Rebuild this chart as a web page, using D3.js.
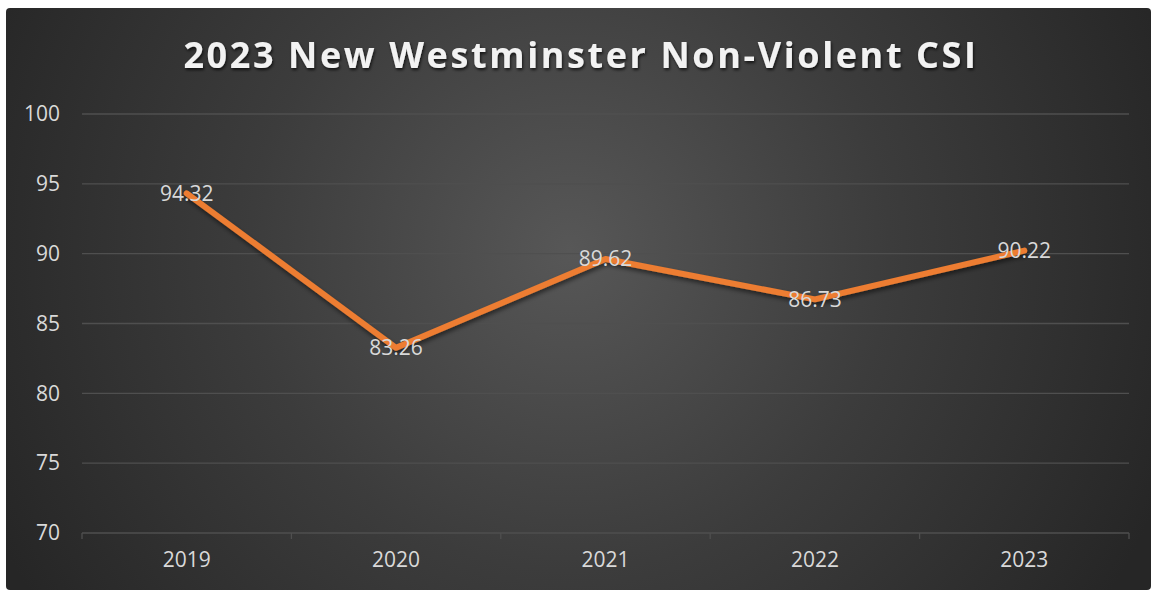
<!DOCTYPE html>
<html>
<head>
<meta charset="utf-8">
<script src="https://cdn.jsdelivr.net/npm/d3@7"></script>
<style>
  html, body { margin: 0; padding: 0; background: #ffffff; }
  svg { display: block; }
</style>
</head>
<body>
<div id="chart"></div>
<script>
// Non-violent Crime Severity Index, New Westminster
const years = ["2019", "2020", "2021", "2022", "2023"];
const csiValues = [94.32, 83.26, 89.62, 86.73, 90.22];
const yTicks = [70, 75, 80, 85, 90, 95, 100];
const chartTitle = "2023 New Westminster Non-Violent CSI";

const W = 1153, H = 590;
const margin = { left: 82, right: 24, top: 114, bottom: 57 };
const labelFont = "'Open Sans', sans-serif";

const svg = d3.select("#chart").append("svg")
  .attr("width", W).attr("height", H);

const defs = svg.append("defs");
const grad = defs.append("radialGradient")
  .attr("id", "bg")
  .attr("gradientUnits", "userSpaceOnUse")
  .attr("cx", 570).attr("cy", 250).attr("r", 640);
grad.append("stop").attr("offset", "0").attr("stop-color", "#575757");
grad.append("stop").attr("offset", "0.5").attr("stop-color", "#3c3c3c");
grad.append("stop").attr("offset", "1").attr("stop-color", "#262626");

const shadow = defs.append("filter").attr("id", "lineShadow")
  .attr("x", "-10%").attr("y", "-10%").attr("width", "120%").attr("height", "130%");
shadow.append("feDropShadow").attr("dx", 1).attr("dy", 3).attr("stdDeviation", 2)
  .attr("flood-color", "#000").attr("flood-opacity", 0.5);

const tshadow = defs.append("filter").attr("id", "titleShadow")
  .attr("x", "-5%").attr("y", "-20%").attr("width", "110%").attr("height", "150%");
tshadow.append("feDropShadow").attr("dx", 1).attr("dy", 2).attr("stdDeviation", 1.5)
  .attr("flood-color", "#000").attr("flood-opacity", 0.7);

// chart area
svg.append("rect")
  .attr("x", 6).attr("y", 8).attr("width", W - 8).attr("height", H - 8)
  .attr("rx", 4)
  .attr("fill", "url(#bg)");

const x = d3.scaleBand()
  .domain(years)
  .range([margin.left, W - margin.right])
  .paddingInner(0).paddingOuter(0);

const y = d3.scaleLinear()
  .domain([70, 100])
  .range([H - margin.bottom, margin.top]);

// horizontal gridlines
svg.append("g")
  .selectAll("line")
  .data(yTicks)
  .join("line")
  .attr("x1", margin.left).attr("x2", W - margin.right)
  .attr("y1", d => y(d)).attr("y2", d => y(d))
  .attr("stroke", "#4f4f4f").attr("stroke-width", 1.3);

// y axis labels
const yAxis = d3.axisLeft(y).tickValues(yTicks).tickSize(0).tickPadding(22);
const yg = svg.append("g").attr("transform", `translate(${margin.left},0)`).call(yAxis);
yg.select(".domain").remove();
yg.selectAll("text")
  .attr("fill", "#d9d9d9")
  .style("font-family", labelFont)
  .style("font-size", "21px");

// category tick marks at band boundaries
const xg = svg.append("g").attr("transform", `translate(0,${y(70)})`);
const bounds = years.map(d => x(d)).concat([x(years[years.length - 1]) + x.bandwidth()]);
xg.selectAll("line.tick")
  .data(bounds)
  .join("line")
  .attr("class", "tick")
  .attr("x1", d => d).attr("x2", d => d)
  .attr("y1", 0).attr("y2", 6)
  .attr("stroke", "#4f4f4f").attr("stroke-width", 1.3);
const xAxis = d3.axisBottom(x).tickSize(0).tickPadding(19);
const xag = svg.append("g").attr("transform", `translate(0,${y(70)})`).call(xAxis);
xag.select(".domain").remove();
xag.selectAll("text")
  .attr("fill", "#d9d9d9")
  .style("font-family", labelFont)
  .style("font-size", "21px");

// the series line
const cx = d => x(d) + x.bandwidth() / 2;
const line = d3.line()
  .x((d, i) => cx(years[i]))
  .y(d => y(d));

svg.append("path")
  .datum(csiValues)
  .attr("d", line)
  .attr("fill", "none")
  .attr("stroke", "#ED7D31")
  .attr("stroke-width", 6)
  .attr("stroke-linejoin", "round")
  .attr("stroke-linecap", "round")
  .attr("filter", "url(#lineShadow)");

// value labels centered on the points
svg.append("g")
  .selectAll("text")
  .data(csiValues)
  .join("text")
  .attr("x", (d, i) => cx(years[i]))
  .attr("y", d => y(d))
  .attr("dy", "0.35em")
  .attr("text-anchor", "middle")
  .attr("fill", "#d9d9d9")
  .style("font-family", labelFont)
  .style("font-size", "21px")
  .text(d => d.toFixed(2));

// title
svg.append("text")
  .attr("x", 581)
  .attr("y", 68)
  .attr("text-anchor", "middle")
  .attr("fill", "#f2f2f2")
  .attr("filter", "url(#titleShadow)")
  .style("font-family", labelFont)
  .style("font-weight", "700")
  .style("font-size", "36px")
  .style("letter-spacing", "2.6px")
  .text(chartTitle);
</script>
</body>
</html>
